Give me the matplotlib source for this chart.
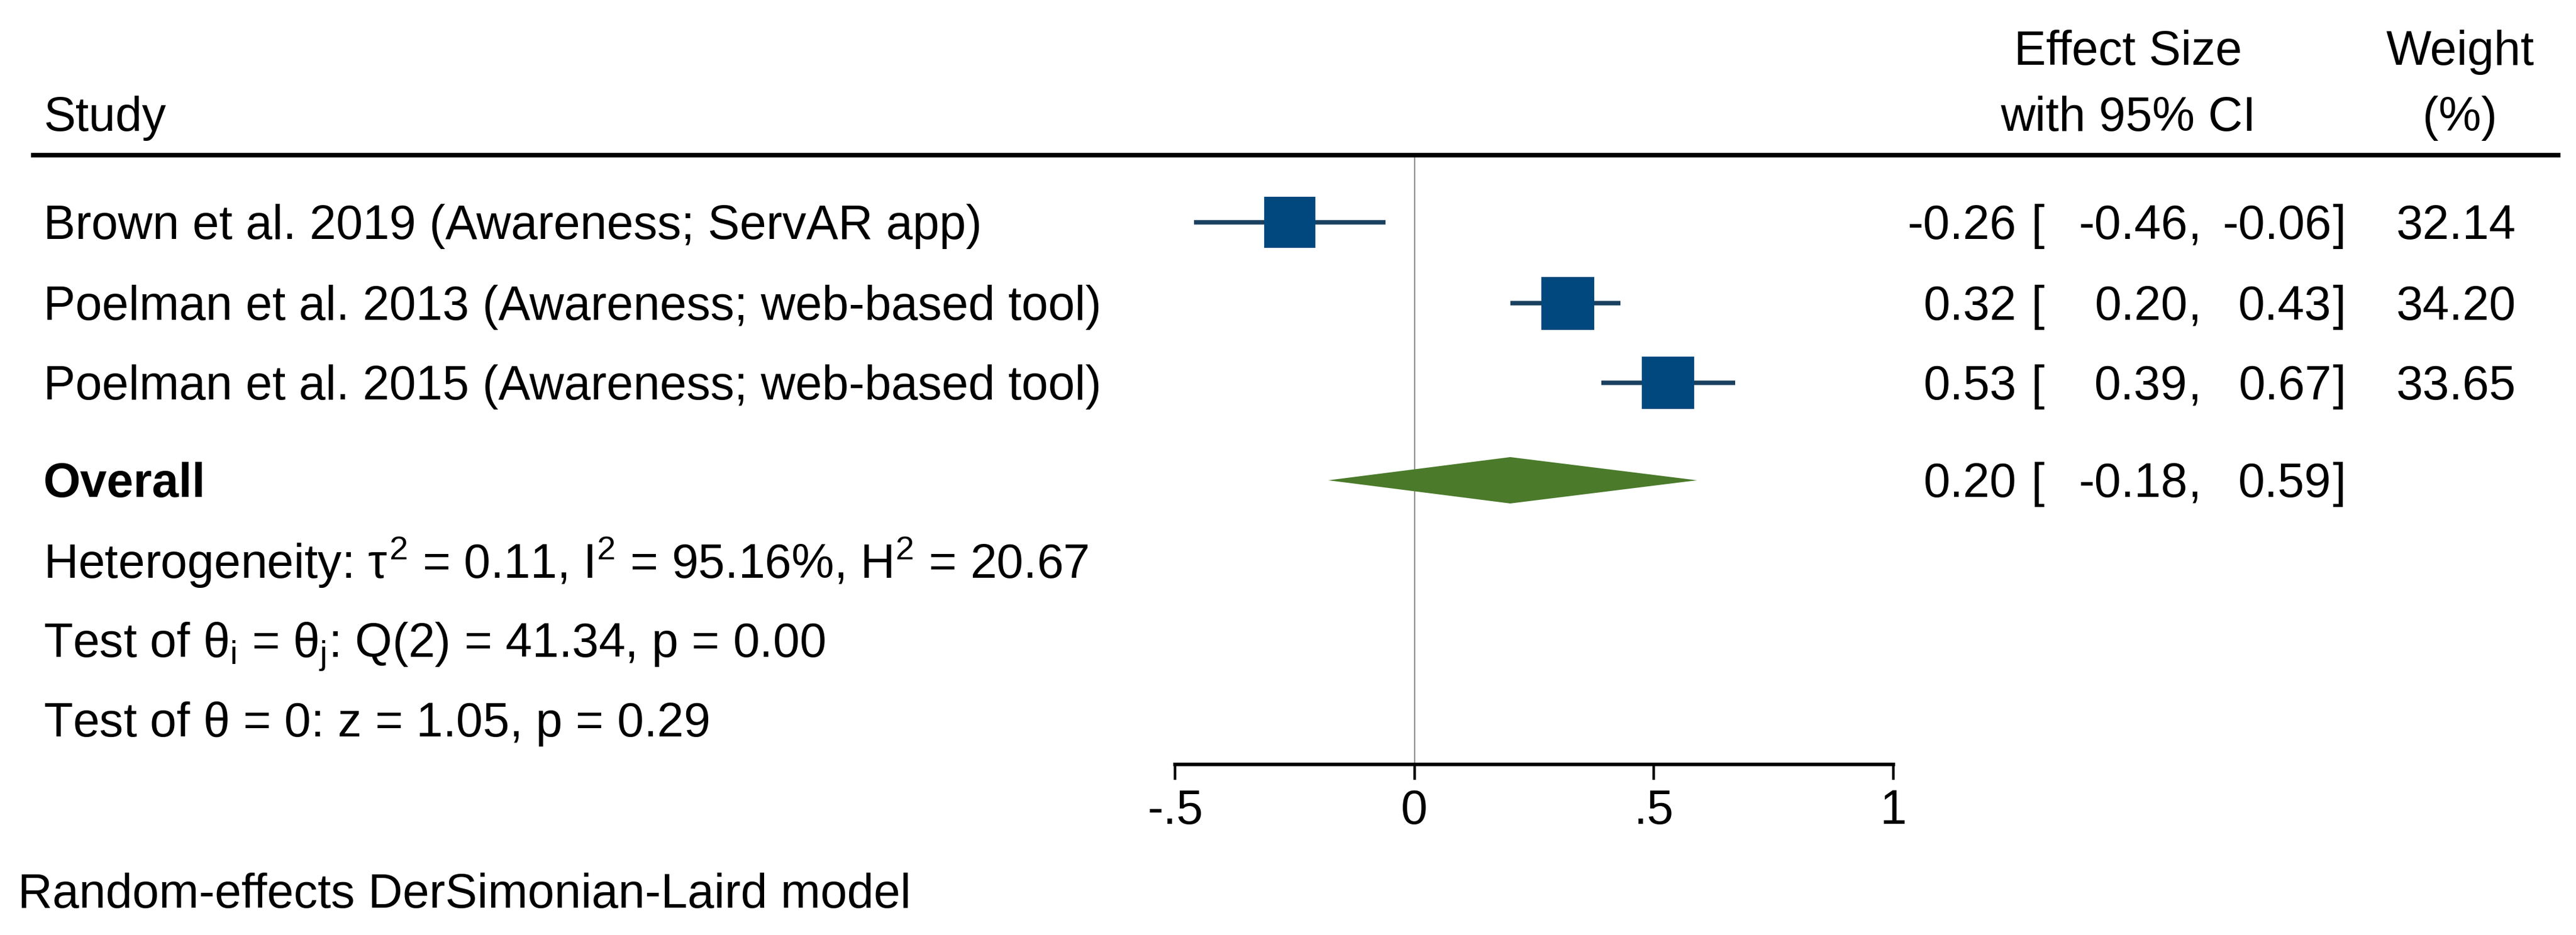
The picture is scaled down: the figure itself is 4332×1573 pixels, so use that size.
import numpy as np
import matplotlib
matplotlib.use("Agg")
import matplotlib.pyplot as plt
from matplotlib.lines import Line2D
from matplotlib.transforms import blended_transform_factory

# ---------------- data ----------------
studies = ["Brown et al. 2019 (Awareness; ServAR app)",
           "Poelman et al. 2013 (Awareness; web-based tool)",
           "Poelman et al. 2015 (Awareness; web-based tool)"]
es = [-0.26, 0.32, 0.53]
ci_lo = [-0.46, 0.20, 0.39]
ci_hi = [-0.06, 0.43, 0.67]
weights = [32.14, 34.20, 33.65]
overall_es, overall_lo, overall_hi = 0.20, -0.18, 0.59
tau2, i2, h2 = 0.11, 95.16, 20.67
q_df, q_stat, q_p = 2, 41.34, 0.00
z_stat, z_p = 1.05, 0.29
xticks = [-0.5, 0, 0.5, 1]
xtick_labels = ["-.5", "0", ".5", "1"]
model_note = "Random-effects DerSimonian-Laird model"

# ---------------- style ----------------
W, H, DPI = 4332, 1573, 100
FS = 58
FONT = "Liberation Sans"
plt.rcParams["font.family"] = [FONT, "DejaVu Sans"]
plt.rcParams["mathtext.fontset"] = "custom"
plt.rcParams["mathtext.rm"] = FONT
plt.rcParams["mathtext.it"] = FONT
plt.rcParams["mathtext.bf"] = FONT + ":bold"

SQ_COLOR = "#00487d"
CI_COLOR = "#1a4060"
DIA_COLOR = "#4a7a2a"

fig = plt.figure(figsize=(W / DPI, H / DPI), dpi=DPI)
fig.patch.set_facecolor("white")

# plot region: x from -0.5 (px 1976) to 1 (px 3184); y pixel space 261..1286
x0_px, x1_px = 1976, 3184
top_px, axis_px = 261, 1286
ax = fig.add_axes([x0_px / W, 1 - axis_px / H, (x1_px - x0_px) / W, (axis_px - top_px) / H])
ax.set_xlim(-0.5, 1)
ax.set_ylim(axis_px, top_px)
ax.patch.set_alpha(0)
for s in ["top", "left", "right"]:
    ax.spines[s].set_visible(False)
ax.spines["bottom"].set_linewidth(4.3)
ax.spines["bottom"].set_bounds(-0.5, 1)
ax.set_yticks([])
ax.set_xticks(xticks)
ax.set_xticklabels(xtick_labels, fontsize=FS)
ax.tick_params(axis="x", length=18.7, width=3.2, pad=11, direction="out")

row_y = [374, 510, 644]
overall_y = 808

# zero line
ax.axvline(0, color="#909090", lw=1.6, zorder=1)

# study CIs and squares
wmax = max(weights)
for y, e, l, h, w in zip(row_y, es, ci_lo, ci_hi, weights):
    ax.plot([l, h], [y, y], color=CI_COLOR, lw=5.4, solid_capstyle="butt", zorder=2)
    side = 89 * np.sqrt(w / wmax) * 72 / DPI
    ax.plot([e], [y], marker="s", ms=side, color=SQ_COLOR, mec=SQ_COLOR, mew=0, zorder=3)

# overall diamond
half_h = 39
ax.fill([overall_lo, overall_es, overall_hi, overall_es],
        [overall_y, overall_y - half_h, overall_y, overall_y + half_h],
        color=DIA_COLOR, lw=0, zorder=3)

# ---------------- texts ----------------
tr = blended_transform_factory(fig.transFigure, ax.transData)


def T(xpx, ybase, s, ha="left", **kw):
    ax.text(xpx / W, ybase, s, transform=tr, ha=ha, va="baseline",
            fontsize=FS, clip_on=False, **kw)


BASE = 28
LEFT = 73
# header
T(LEFT, 220, "Study")
T(3579, 109, "Effect Size", ha="center")
T(3579, 220, "with 95% CI", ha="center")
T(4137, 109, "Weight", ha="center")
T(4137, 220, "(%)", ha="center")
fig.add_artist(Line2D([56 / W, 4302 / W], [1 - top_px / H, 1 - top_px / H],
                      color="black", lw=5.5, transform=fig.transFigure))

ES_R, LB_L, LO_R, CM_L, HI_R, RB_L, W_R = 3391, 3415, 3679, 3680, 3921, 3922, 4231


def es_cols(yb, e, l, h):
    T(ES_R, yb, f"{e:.2f}", ha="right")
    T(LB_L, yb, "[", ha="left")
    T(LO_R, yb, f"{l:.2f}", ha="right")
    T(CM_L, yb, ",", ha="left")
    T(HI_R, yb, f"{h:.2f}", ha="right")
    T(RB_L, yb, "]", ha="left")


for y, name, e, l, h, w in zip(row_y, studies, es, ci_lo, ci_hi, weights):
    T(LEFT, y + BASE, name)
    es_cols(y + BASE, e, l, h)
    T(W_R, y + BASE, f"{w:.2f}", ha="right")

T(LEFT, overall_y + BASE, "Overall", fontweight="bold")
es_cols(overall_y + BASE, overall_es, overall_lo, overall_hi)

T(LEFT, 972, r"Heterogeneity: $\tau^2$ = %.2f, I$^2$ = %.2f%%, H$^2$ = %.2f" % (tau2, i2, h2))
T(LEFT, 1106, r"Test of $\theta_i$ = $\theta_j$: Q(%d) = %.2f, p = %.2f" % (q_df, q_stat, q_p))
T(LEFT, 1239, r"Test of $\theta$ = 0: z = %.2f, p = %.2f" % (z_stat, z_p))
T(30, 1527, model_note)

fig.savefig("out.png", dpi=DPI, facecolor="white")
